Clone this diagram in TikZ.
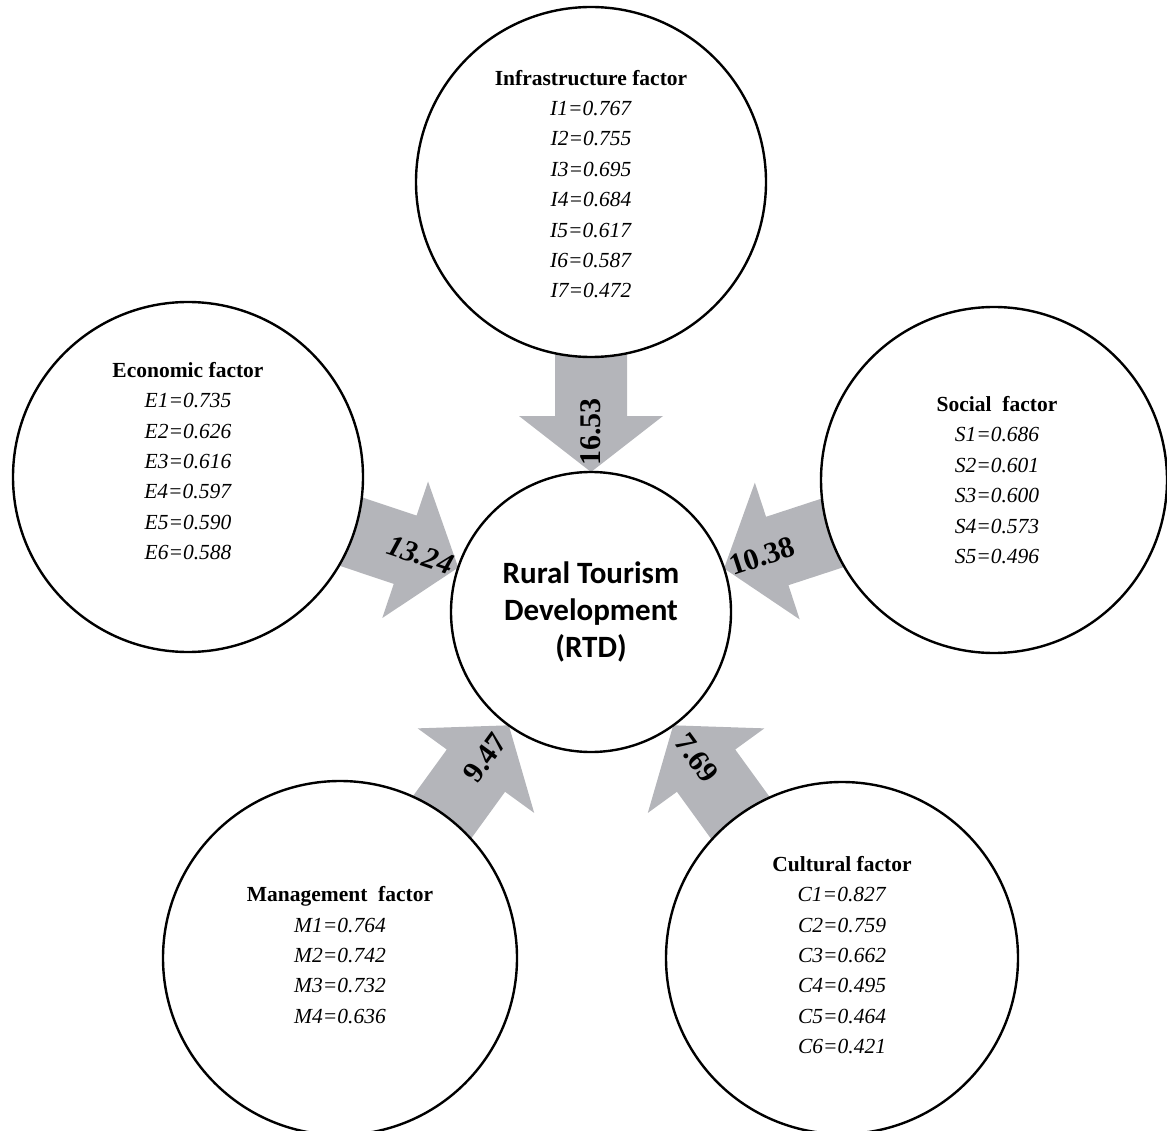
\documentclass[tikz,border=0pt]{standalone}
\usepackage{fontspec}
\setmainfont{Liberation Serif}
\newfontfamily\rtdfont{Carlito}
\usetikzlibrary{calc,backgrounds}
\definecolor{arrowgray}{RGB}{180,181,186}
\tikzset{
  factor/.style={circle,draw=black,line width=2.4pt,fill=white,inner sep=0pt},
  factortext/.style={align=center,inner sep=0pt,font=\fontsize{21.5}{30.4}\selectfont},
  weight/.style={inner sep=0pt,font=\fontsize{30}{30}\selectfont\bfseries}
}

\begin{document}
\begin{tikzpicture}[x=1pt,y=-1pt]
   \useasboundingbox (0,0) rectangle (1167,1131);
   \node[factor,minimum size=280pt] (rtd) at (591,612) {};
   \node[factor,minimum size=350pt] (infra) at (591,182) {};
   \node[factor,minimum size=350pt] (eco) at (188,477) {};
   \node[factor,minimum size=346pt] (soc) at (994,480) {};
   \node[factor,minimum size=354pt] (man) at (340,958) {};
   \node[factor,minimum size=352pt] (cul) at (842,958) {};

   \node[align=center,inner sep=0pt,font=\rtdfont\fontsize{31}{37}\selectfont\bfseries] (rtdtxt) at (rtd.center) {Rural Tourism\\Development\\(RTD)};
   \node[factortext] (infratxt) at ([yshift=-2pt]infra.center) {\textbf{Infrastructure factor}\\\textit{I1=0.767}\\\textit{I2=0.755}\\\textit{I3=0.695}\\\textit{I4=0.684}\\\textit{I5=0.617}\\\textit{I6=0.587}\\\textit{I7=0.472}};
   \node[factortext] (ecotxt) at ([yshift=16pt]eco.center) {\textbf{Economic factor}\\\textit{E1=0.735}\\\textit{E2=0.626}\\\textit{E3=0.616}\\\textit{E4=0.597}\\\textit{E5=0.590}\\\textit{E6=0.588}};
   \node[factortext] (soctxt) at ([xshift=3pt]soc.center) {\textbf{Social\ \ factor}\\\textit{S1=0.686}\\\textit{S2=0.601}\\\textit{S3=0.600}\\\textit{S4=0.573}\\\textit{S5=0.496}};
   \node[factortext] (mantxt) at ([yshift=3pt]man.center) {\textbf{Management\ \ factor}\\\textit{M1=0.764}\\\textit{M2=0.742}\\\textit{M3=0.732}\\\textit{M4=0.636}};
   \node[factortext] (cultxt) at ([yshift=3pt]cul.center) {\textbf{Cultural factor}\\\textit{C1=0.827}\\\textit{C2=0.759}\\\textit{C3=0.662}\\\textit{C4=0.495}\\\textit{C5=0.464}\\\textit{C6=0.421}};

   % block arrows into RTD
   \foreach \f/\v in {infra/16.53,eco/\textit{13.24},soc/10.38,man/9.47,cul/7.69} {
      \coordinate (tip) at ($(rtd.center)!140pt!(\f.center)$);
      \coordinate (neck) at ($(tip)!56pt!(\f.center)$);
      \begin{pgfonlayer}{background}
         \fill[arrowgray] ($(\f.center)!36pt!90:(tip)$) -- ($(neck)!36pt!90:(tip)$) -- ($(neck)!72pt!90:(tip)$) -- (tip)
            -- ($(neck)!72pt!-90:(tip)$) -- ($(neck)!36pt!-90:(tip)$) -- ($(\f.center)!36pt!-90:(tip)$) -- cycle;
      \end{pgfonlayer}
      \path (tip) -- ($(tip)!80pt!(\f.center)$) node[midway,sloped,weight] {\v};
   }
\end{tikzpicture}
\end{document}
